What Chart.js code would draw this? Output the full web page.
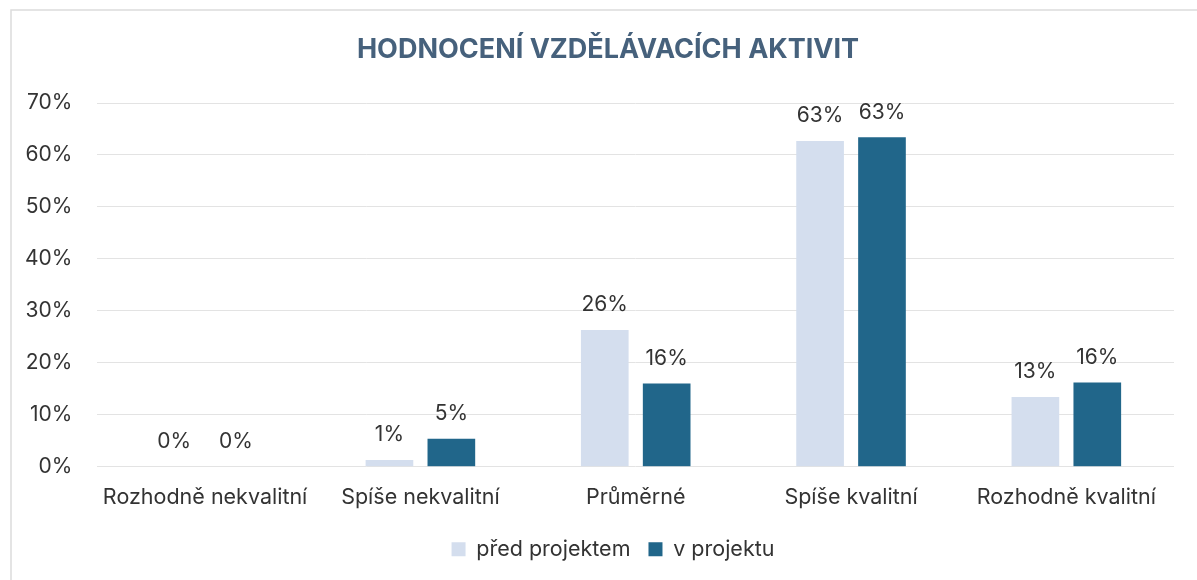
<!DOCTYPE html>
<html>
<head>
<meta charset="utf-8">
<script src="https://cdn.jsdelivr.net/npm/chart.js@4/dist/chart.umd.min.js"></script>
<style>
  html, body { margin: 0; padding: 0; background: #fff; }
  #wrap { width: 1197px; height: 580px; }
</style>
</head>
<body>
<div id="wrap"><canvas id="myChart" width="1197" height="580"></canvas></div>
<script>
const chartTitle = 'HODNOCENÍ VZDĚLÁVACÍCH AKTIVIT';
const categories = ['Rozhodně nekvalitní', 'Spíše nekvalitní', 'Průměrné', 'Spíše kvalitní', 'Rozhodně kvalitní'];
const predProjektem = [0, 1.3, 26.3, 62.7, 13.4];
const vProjektu = [0, 5.4, 16.0, 63.4, 16.2];
const seriesNames = ['před projektem', 'v projektu'];

const fontFamily = "Inter, 'Liberation Sans', sans-serif";

// rámeček a nadpis (nadpis je centrovaný na rámeček, ne na plochu grafu)
const framePlugin = {
    id: 'frame',
    beforeDraw(chart) {
        const c = chart.ctx;
        c.save();
        c.fillStyle = '#ffffff';
        c.fillRect(0, 0, chart.width, chart.height);
        c.strokeStyle = '#dcdcdc';
        c.lineWidth = 1.5;
        c.beginPath();
        c.moveTo(11, chart.height);
        c.lineTo(11, 10);
        c.lineTo(chart.width, 10);
        c.stroke();

        c.font = 'bold 27px ' + fontFamily;
        c.fillStyle = '#46617c';
        c.textAlign = 'center';
        c.textBaseline = 'middle';
        c.fillText(chartTitle, 608, 50);
        c.restore();
    },
    afterLayout(chart) {
        // posun legendy doprava jako v předloze
        if (chart.legend) {
            chart.legend.left += 26;
            chart.legend.right += 26;
        }
    }
};

// popisky hodnot nad sloupci
const valueLabels = {
    id: 'valueLabels',
    afterDatasetsDraw(chart) {
        const c = chart.ctx;
        c.save();
        c.font = '21px ' + fontFamily;
        c.fillStyle = '#333333';
        c.textAlign = 'center';
        c.textBaseline = 'middle';
        chart.data.datasets.forEach((ds, i) => {
            chart.getDatasetMeta(i).data.forEach((el, j) => {
                c.fillText(Math.round(ds.data[j]) + '%', el.x, el.y - 25);
            });
        });
        c.restore();
    }
};

const ctx = document.getElementById('myChart').getContext('2d');
const myChart = new Chart(ctx, {
    type: 'bar',
    data: {
        labels: categories,
        datasets: [
            { label: seriesNames[0], data: predProjektem, backgroundColor: '#d4deee', barPercentage: 0.77, categoryPercentage: 0.575 },
            { label: seriesNames[1], data: vProjektu, backgroundColor: '#21668a', barPercentage: 0.77, categoryPercentage: 0.575 }
        ]
    },
    options: {
        responsive: false,
        animation: false,
        layout: { padding: { left: 0, right: 23, top: 103, bottom: 10 } },
        plugins: {
            title: { display: false },
            legend: {
                position: 'bottom',
                labels: {
                    color: '#333333',
                    font: { family: fontFamily, size: 21.5 },
                    boxWidth: 14,
                    boxHeight: 14,
                    padding: 18
                }
            },
            tooltip: { enabled: false }
        },
        scales: {
            x: {
                grid: { display: false },
                border: { display: false },
                ticks: {
                    color: '#333333',
                    font: { family: fontFamily, size: 21.5 },
                    padding: 10,
                    minRotation: 0,
                    maxRotation: 0,
                    autoSkip: false
                }
            },
            y: {
                min: 0,
                max: 70,
                grid: { color: '#e3e3e3', drawTicks: false },
                border: { display: false },
                ticks: {
                    stepSize: 10,
                    color: '#333333',
                    font: { family: fontFamily, size: 21 },
                    padding: 25,
                    callback: v => v + '%'
                }
            }
        }
    },
    plugins: [framePlugin, valueLabels]
});
</script>
</body>
</html>
